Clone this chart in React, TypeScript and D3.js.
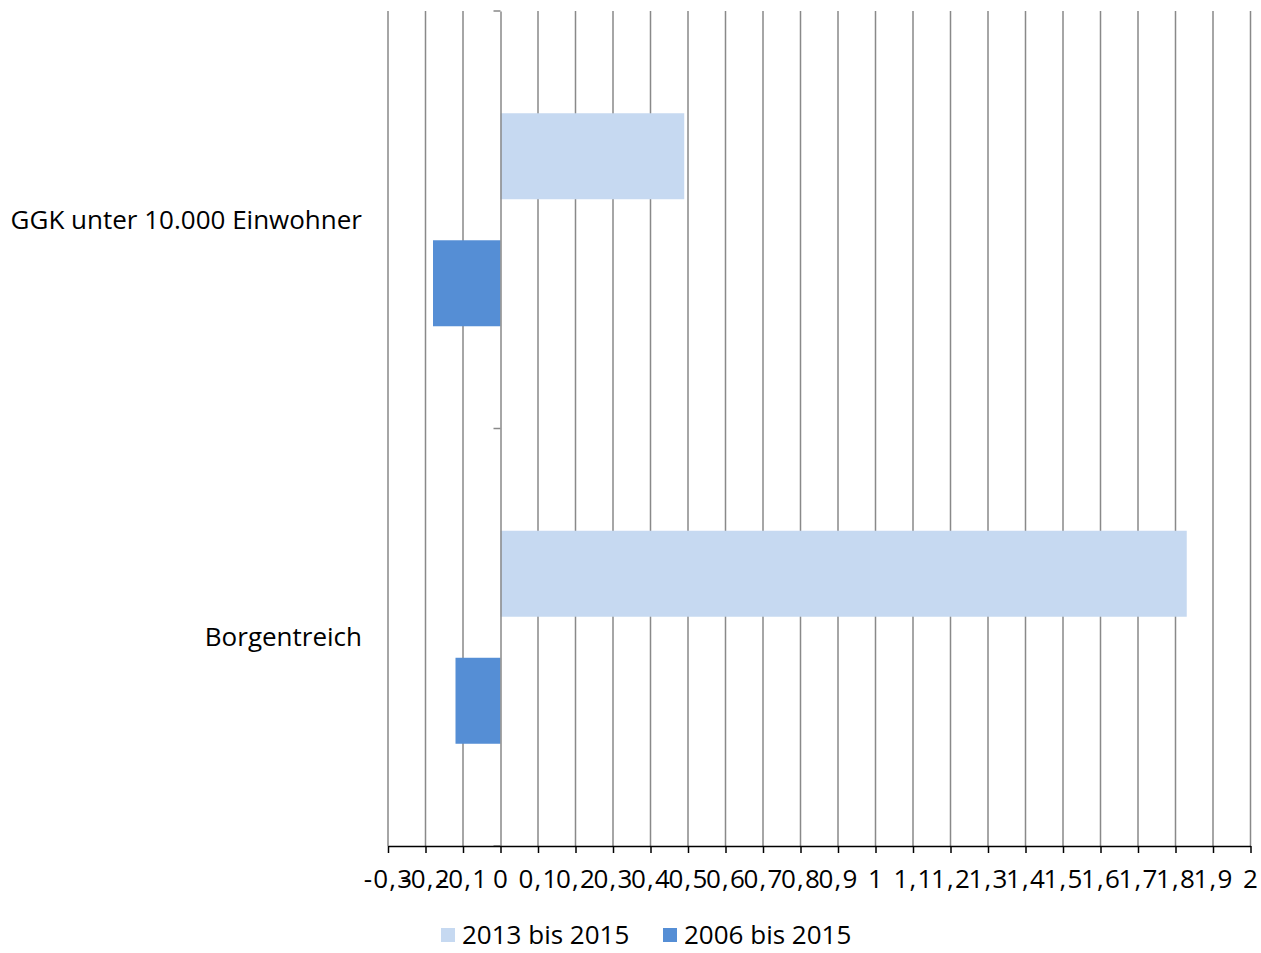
import React, { useEffect, useRef } from 'react';
import * as d3 from 'd3';

// categories top to bottom, series in draw order inside each group
const categories = ['GGK unter 10.000 Einwohner', 'Borgentreich'];
const seriesNames = ['2013 bis 2015', '2006 bis 2015'];
const seriesColors = ['#C6D9F1', '#558ED5'];
const values2013 = [0.49, 1.83];
const values2006 = [-0.18, -0.12];
const tickValues = d3.range(-3, 21).map((i) => i / 10);

const W = 1261;
const H = 953;
const FONT = '"Open Sans", sans-serif';

const App = () => {
  const ref = useRef<SVGSVGElement>(null);

  useEffect(() => {
    const svg = d3.select(ref.current);
    svg.selectAll('*').remove();

    const left = 388;
    const right = 1250.5;
    const top = 11;
    const bottom = 846;

    const x = d3.scaleLinear().domain([-0.3, 2]).range([left, right]);
    const y = d3.scaleBand().domain(categories).range([top, bottom]);
    const ys = d3
      .scaleBand()
      .domain(seriesNames)
      .range([0, y.bandwidth()])
      .paddingInner(0.323)
      .paddingOuter(0.805);

    const locale = d3.formatLocale({ decimal: ',', thousands: '.', grouping: [3], currency: ['', '€'], minus: '-' });
    const fmt = locale.format('');
    const label = (d: number) => fmt(Math.round(d * 10) / 10);

    // grid lines
    svg
      .append('g')
      .selectAll('line')
      .data(tickValues.filter((d) => Math.abs(d) > 1e-9))
      .enter()
      .append('line')
      .attr('x1', (d) => x(d))
      .attr('x2', (d) => x(d))
      .attr('y1', top)
      .attr('y2', bottom)
      .attr('stroke', '#898989')
      .attr('stroke-width', 1.5);

    const rows = categories.map((c, i) => ({ c, vals: [values2013[i], values2006[i]] }));

    const groups = svg
      .append('g')
      .selectAll('g')
      .data(rows)
      .enter()
      .append('g')
      .attr('transform', (d) => `translate(0,${y(d.c)})`);

    groups
      .selectAll('rect')
      .data((d) => d.vals.map((v, j) => ({ v, s: seriesNames[j], color: seriesColors[j] })))
      .enter()
      .append('rect')
      .attr('x', (d) => x(Math.min(0, d.v)))
      .attr('width', (d) => Math.abs(x(d.v) - x(0)))
      .attr('y', (d) => ys(d.s) || 0)
      .attr('height', ys.bandwidth())
      .attr('fill', (d) => d.color);

    // vertical category axis at 0
    const yAxis = svg
      .append('g')
      .attr('transform', `translate(${x(0)},0)`)
      .call(d3.axisLeft(y).tickValues([]).tickSizeOuter(0));
    yAxis.select('.domain').attr('stroke', '#898989').attr('stroke-width', 1.5);
    yAxis
      .selectAll('line.sep')
      .data([top, top + y.step(), bottom])
      .enter()
      .append('line')
      .attr('class', 'sep')
      .attr('x1', -7)
      .attr('x2', 0)
      .attr('y1', (d) => d)
      .attr('y2', (d) => d)
      .attr('stroke', '#898989')
      .attr('stroke-width', 1.5);

    // category labels
    svg
      .append('g')
      .selectAll('text')
      .data(categories)
      .enter()
      .append('text')
      .attr('x', 362)
      .attr('y', (d) => (y(d) || 0) + y.bandwidth() / 2)
      .attr('dy', '0.34em')
      .attr('text-anchor', 'end')
      .attr('font-family', FONT)
      .attr('font-size', 26)
      .attr('fill', '#000')
      .text((d) => d);

    // value axis
    const xAxis = svg
      .append('g')
      .attr('transform', `translate(0,${bottom})`)
      .call(
        d3
          .axisBottom(x)
          .tickValues(tickValues)
          .tickFormat((d) => label(d as number))
          .tickSize(7)
          .tickSizeOuter(0)
          .tickPadding(17)
      );
    xAxis.select('.domain').attr('stroke', '#000').attr('stroke-width', 1.5);
    xAxis.selectAll('.tick line').attr('stroke', '#000').attr('stroke-width', 1.5);
    xAxis
      .selectAll('.tick text')
      .attr('font-family', FONT)
      .attr('font-size', 26)
      .attr('letter-spacing', 1.2)
      .attr('fill', '#000');

    // legend
    const legend = svg
      .append('g')
      .selectAll('g')
      .data(seriesNames)
      .enter()
      .append('g')
      .attr('transform', (d, i) => `translate(${441 + i * 222},928)`);
    legend
      .append('rect')
      .attr('width', 14)
      .attr('height', 14)
      .attr('fill', (d, i) => seriesColors[i]);
    legend
      .append('text')
      .attr('x', 21)
      .attr('y', 15.5)
      .attr('font-family', FONT)
      .attr('font-size', 26)
      .attr('fill', '#000')
      .text((d) => d);
  }, []);

  return (
    <svg
      ref={ref}
      width={W}
      height={H}
      style={{ position: 'absolute', left: 0, top: 0, display: 'block' }}
    />
  );
};

export default App;
